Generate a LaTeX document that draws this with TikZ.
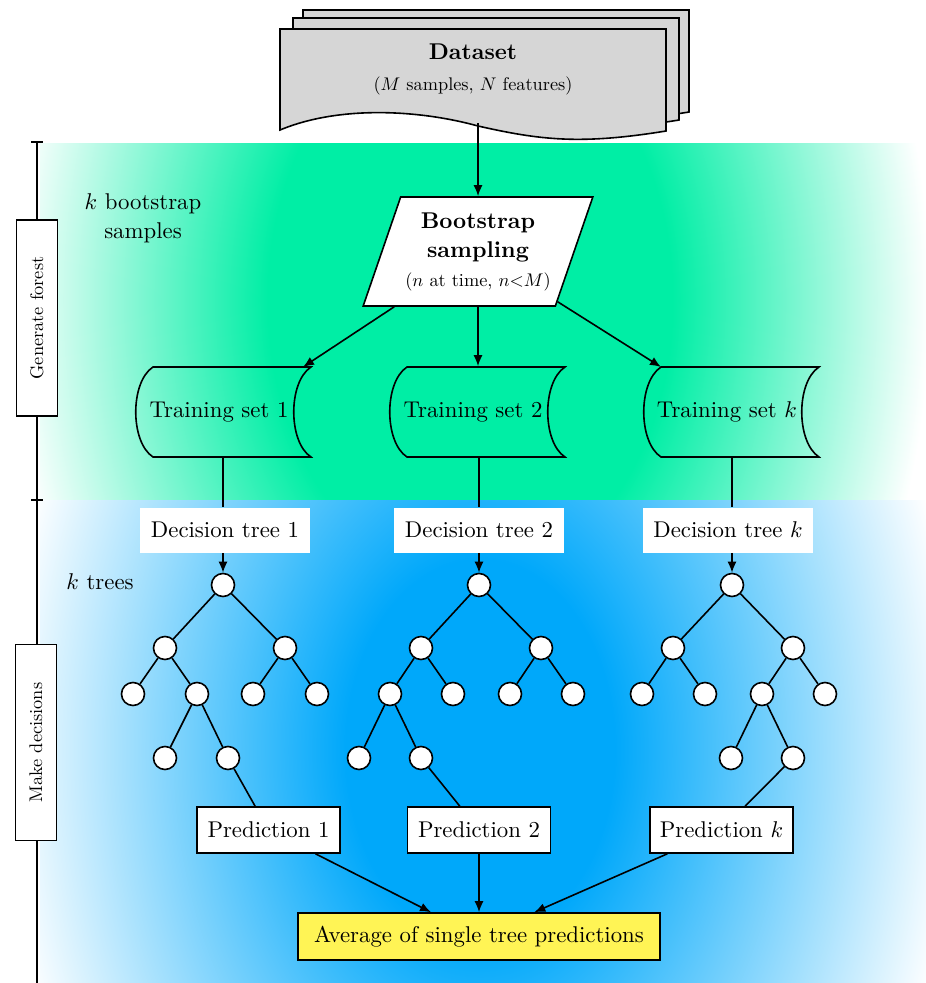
\RequirePackage{fix-cm}
\documentclass[tikz,border=0pt]{standalone}
\usepackage{fontspec}
\setmainfont{lmroman10-regular}[Extension=.otf, BoldFont=lmroman10-bold, ItalicFont=lmroman10-italic, BoldItalicFont=lmroman10-bolditalic]
\DeclareFontShape{OML}{cmm}{m}{it}{<-> cmmi10}{}
\usetikzlibrary{arrows.meta,shapes.geometric,calc}
\definecolor{mint}{RGB}{0,238,165}
\definecolor{sky}{RGB}{0,168,250}
\definecolor{docgray}{RGB}{214,214,214}
\definecolor{avgyellow}{RGB}{255,244,85}
\pgfdeclareradialshading{mintfade}{\pgfpoint{0bp}{0bp}}{color(0bp)=(mint); color(11bp)=(mint); color(25bp)=(white); color(50bp)=(white)}
\pgfdeclareradialshading{skyfade}{\pgfpoint{0bp}{0bp}}{color(0bp)=(sky); color(7bp)=(sky); color(25bp)=(white); color(50bp)=(white)}
\newcommand\bigf{\fontsize{22.8}{29}\selectfont}
\newcommand\smf{\fontsize{18.3}{22}\selectfont}
\begin{document}
\begin{tikzpicture}[x=1pt,y=-1pt, line width=1.6pt,
  every node/.style={font=\bigf},
  arr/.style={-{Latex[length=11pt,width=9pt]}},
  leaf/.style={circle,draw,fill=white,minimum size=23pt,inner sep=0pt},
  dtbox/.style={fill=white,minimum width=170pt,minimum height=45pt,inner sep=2pt},
  predbox/.style={draw,fill=white,minimum width=143pt,minimum height=46pt,inner sep=2pt},
  tsnode/.style={minimum height=90pt,minimum width=120pt,inner sep=0pt},
  phase/.style={draw,fill=white,rotate=90,minimum width=196pt,minimum height=41pt,font=\smf,inner sep=2pt},
]
\useasboundingbox (0,0) rectangle (926,983);
% backgrounds
\begin{scope}
\clip (40,143) rectangle (926,500);
\shade[shading=mintfade] (470,300) ellipse[x radius=460pt, y radius=640pt];
\end{scope}
\begin{scope}
\clip (40,500) rectangle (926,983);
\shade[shading=skyfade] (480,750) ellipse[x radius=480pt, y radius=680pt];
\end{scope}
% left axis
\draw (37,142) -- (37,983);
\draw (31,142) -- (43,142);
\draw (31,500) -- (43,500);
\node[phase] (gf) at (37,318) {Generate forest};
\node[phase] (md) at (36,742.5) {Make decisions};
% dataset pages
\filldraw[fill=docgray, shift={(23,-19)}] (280,29) -- (666,29) -- (666,131) .. controls (580,145) and (540,140) .. (478,126) .. controls (420,110) and (340,105) .. (280,130) -- cycle;
\filldraw[fill=docgray, shift={(13,-11)}] (280,29) -- (666,29) -- (666,131) .. controls (580,145) and (540,140) .. (478,126) .. controls (420,110) and (340,105) .. (280,130) -- cycle;
\filldraw[fill=docgray] (280,29) -- (666,29) -- (666,131) .. controls (580,145) and (540,140) .. (478,126) .. controls (420,110) and (340,105) .. (280,130) -- cycle;
\node[align=center, inner sep=0pt] (dat) at (473,69) {\textbf{Dataset}\\[2pt]{\smf($M$ samples, $N$ features)}};
\coordinate (datout) at (478,123);
% bootstrap
\node[trapezium, trapezium left angle=66, trapezium right angle=114, trapezium stretches=true, draw, fill=white, minimum width=230pt, minimum height=109pt, align=center, inner sep=1pt] (boot) at (478,251.5) {\textbf{Bootstrap}\\\textbf{sampling}\\{\smf($n$ at time, $n{<}M$)}};
\draw[arr] (datout) -- (boot);
\node[align=center] (kbs) at (143,218) {$k$ bootstrap\\samples};
% training sets
\node[tsnode] (ts1) at (219,412) {Training set 1};
\node[tsnode] (ts2) at (473,412) {Training set 2};
\node[tsnode] (tsk) at (727,412) {Training set $k$};
\foreach \n in {ts1,ts2,tsk}{
  \draw ($(\n.center)+(-66,-45)$) -- ($(\n.center)+(92,-45)$) .. controls ($(\n.center)+(69,-30)$) and ($(\n.center)+(69,30)$) .. ($(\n.center)+(92,45)$) -- ($(\n.center)+(-66,45)$) .. controls ($(\n.center)+(-89,30)$) and ($(\n.center)+(-89,-30)$) .. cycle;
}
\coordinate (ts1in) at ($(ts1.center)+(84,-45)$);
\coordinate (tskin) at ($(tsk.center)+(-66,-45)$);
\draw[arr] (boot) -- (ts1in);
\draw[arr] (boot) -- (boot |- ts2.north);
\draw[arr] (boot) -- (tskin);
% decision trees
\node[dtbox] (dt1) at (225,530) {Decision tree 1};
\node[dtbox] (dt2) at (479,530) {Decision tree 2};
\node[dtbox] (dtk) at (728,530) {Decision tree $k$};
\node (kt) at (100,582) {$k$ trees};
% tree 1
\node[leaf] (r1) at (223,585) {};
\node[leaf] (a1) at (165,648) {};
\node[leaf] (b1) at (285,648) {};
\node[leaf] (c1) at (133,694) {};
\node[leaf] (d1) at (197,694) {};
\node[leaf] (e1) at (253,694) {};
\node[leaf] (f1) at (317,694) {};
\node[leaf] (g1) at (165,758) {};
\node[leaf] (h1) at (228,758) {};
% tree 2
\node[leaf] (r2) at (479,585) {};
\node[leaf] (a2) at (421,648) {};
\node[leaf] (b2) at (541,648) {};
\node[leaf] (c2) at (390,694) {};
\node[leaf] (d2) at (453,694) {};
\node[leaf] (e2) at (510,694) {};
\node[leaf] (f2) at (573,694) {};
\node[leaf] (g2) at (359,758) {};
\node[leaf] (h2) at (421,758) {};
% tree k
\node[leaf] (r3) at (732,585) {};
\node[leaf] (a3) at (673,648) {};
\node[leaf] (b3) at (793,648) {};
\node[leaf] (c3) at (642,694) {};
\node[leaf] (d3) at (705,694) {};
\node[leaf] (e3) at (762,694) {};
\node[leaf] (f3) at (825,694) {};
\node[leaf] (g3) at (731,758) {};
\node[leaf] (h3) at (793,758) {};
% column connectors
\draw (r1 |- ts1.south) -- (r1 |- dt1.north);
\draw (r2 |- ts2.south) -- (r2 |- dt2.north);
\draw (r3 |- tsk.south) -- (r3 |- dtk.north);
\draw[arr] (r1 |- dt1.south) -- (r1);
\draw[arr] (r2 |- dt2.south) -- (r2);
\draw[arr] (r3 |- dtk.south) -- (r3);
% tree edges
\draw (r1) -- (a1) (r1) -- (b1) (a1) -- (c1) (a1) -- (d1) (b1) -- (e1) (b1) -- (f1) (d1) -- (g1) (d1) -- (h1);
\draw (r2) -- (a2) (r2) -- (b2) (a2) -- (c2) (a2) -- (d2) (b2) -- (e2) (b2) -- (f2) (c2) -- (g2) (c2) -- (h2);
\draw (r3) -- (a3) (r3) -- (b3) (a3) -- (c3) (a3) -- (d3) (b3) -- (e3) (b3) -- (f3) (e3) -- (g3) (e3) -- (h3);
% predictions
\node[predbox] (p1) at (268.5,830) {Prediction 1};
\node[predbox] (p2) at (479,830) {Prediction 2};
\node[predbox] (pk) at (721.5,830) {Prediction $k$};
\draw (h1) -- (p1);
\draw (h2) -- (p2);
\draw (h3) -- (pk);
\node[draw, fill=avgyellow, minimum width=362pt, minimum height=47pt] (avg) at (479,936.5) {Average of single tree predictions};
\draw[arr] (p1) -- (avg);
\draw[arr] (p2) -- (avg);
\draw[arr] (pk) -- (avg);
\end{tikzpicture}
\end{document}
